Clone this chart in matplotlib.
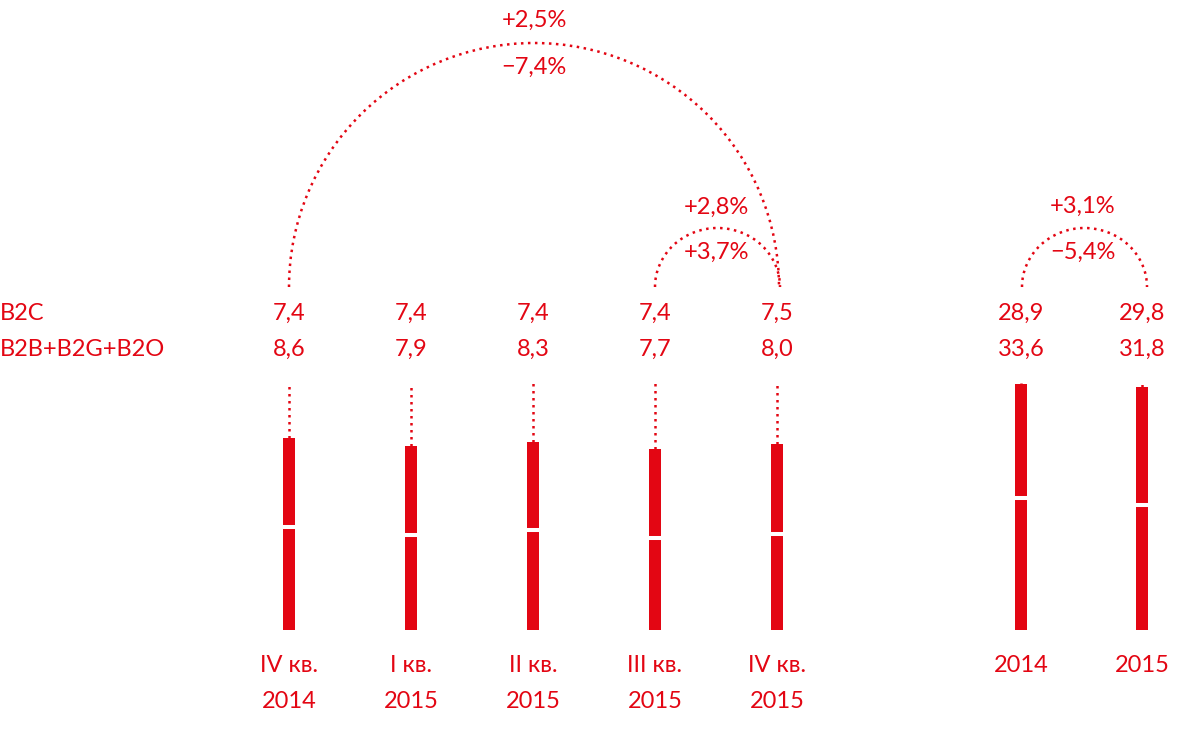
import matplotlib
matplotlib.use("Agg")
import matplotlib.pyplot as plt
from matplotlib.patches import Arc

plt.rcParams['font.family'] = ['Lato', 'DejaVu Sans']

RED = '#E30613'

# ---- data ----
quarters = ['IV кв.\n2014', 'I кв.\n2015', 'II кв.\n2015', 'III кв.\n2015', 'IV кв.\n2015']
q_b2c = [7.4, 7.4, 7.4, 7.4, 7.5]
q_b2b = [8.6, 7.9, 8.3, 7.7, 8.0]
years = ['2014', '2015']
y_b2c = [28.9, 29.8]
y_b2b = [33.6, 31.8]
series_names = ['B2C', 'B2B+B2G+B2O']
changes_big = ['+2,5%', '\u22127,4%']      # IV кв. 2014 -> IV кв. 2015
changes_small = ['+2,8%', '+3,7%']         # III кв. 2015 -> IV кв. 2015
changes_year = ['+3,1%', '\u22125,4%']     # 2014 -> 2015

# ---- layout (pixels) ----
W, H = 1188, 736
q_x = [289, 411, 533, 655, 777]
y_x = [1021, 1142]
BASE_PX = 630
DOT_TOP_PX = 383
Q_SCALE = 12.0     # px per unit (quarters)
Y_SCALE = 3.94     # px per unit (years)
BAR_W = 12
ROW1, ROW2 = 313, 349
FS = 17

fig = plt.figure(figsize=(W / 100, H / 100), dpi=100)

def bar_axes(scale):
    ax = fig.add_axes([0, (H - BASE_PX) / H, 1, BASE_PX / H])
    ax.set_xlim(0, W)
    ax.set_ylim(0, BASE_PX / scale)
    ax.axis('off')
    ax.patch.set_alpha(0)
    return ax

ax_q = bar_axes(Q_SCALE)
ax_y = bar_axes(Y_SCALE)

def draw_bars(ax, xs, bottom_vals, top_vals, scale):
    ax.bar(xs, bottom_vals, width=BAR_W, color=RED, linewidth=0)
    ax.bar(xs, top_vals, bottom=bottom_vals, width=BAR_W, color=RED, linewidth=0)
    for x, b, t in zip(xs, bottom_vals, top_vals):
        ax.hlines(b, x - BAR_W / 2 - 1, x + BAR_W / 2 + 1, color='white', lw=2.9)
        ax.vlines(x, b + t, (BASE_PX - DOT_TOP_PX) / scale, color=RED, lw=1.8,
                  linestyles=(0, (1, 1.8)))

# B2B+B2G+B2O at the bottom, B2C on top
draw_bars(ax_q, q_x, q_b2b, q_b2c, Q_SCALE)
draw_bars(ax_y, y_x, y_b2b, y_b2c, Y_SCALE)

# overlay axes for text and arcs
ax = fig.add_axes([0, 0, 1, 1])
ax.set_xlim(0, W)
ax.set_ylim(H, 0)
ax.axis('off')
ax.patch.set_alpha(0)

tk = dict(color=RED, fontsize=FS, ha='center', va='center')
ax.text(0, ROW1, series_names[0], color=RED, fontsize=FS, ha='left', va='center')
ax.text(0, ROW2, series_names[1], color=RED, fontsize=FS, ha='left', va='center')

for x, a, b, lab in zip(q_x, q_b2c, q_b2b, quarters):
    ax.text(x, ROW1, f'{a:.1f}'.replace('.', ','), **tk)
    ax.text(x, ROW2, f'{b:.1f}'.replace('.', ','), **tk)
    l1, l2 = lab.split('\n')
    ax.text(x, 666, l1, **tk)
    ax.text(x, 701, l2, **tk)

for x, a, b, lab in zip(y_x, y_b2c, y_b2b, years):
    ax.text(x, ROW1, f'{a:.1f}'.replace('.', ','), **tk)
    ax.text(x, ROW2, f'{b:.1f}'.replace('.', ','), **tk)
    ax.text(x, 666, lab, **tk)

# arcs
ARC_Y = 287
dot = dict(color=RED, lw=1.8, linestyle=(0, (1, 1.8)), theta1=180, theta2=360)
x0, x1 = q_x[0], q_x[-1] + 2
cx = (x0 + x1) / 2
r = (x1 - x0) / 2
ax.add_patch(Arc((cx, ARC_Y), 2 * r, 2 * (ARC_Y - 43), **dot))
ax.text(cx, 20, changes_big[0], **tk)
ax.text(cx, 67, changes_big[1], **tk)

x0, x1 = q_x[3], q_x[4] + 3
cx = (x0 + x1) / 2
ax.add_patch(Arc((cx, ARC_Y), x1 - x0, 2 * (ARC_Y - 228), **dot))
ax.text(cx - 1, 207, changes_small[0], **tk)
ax.text(cx - 1, 252, changes_small[1], **tk)

x0, x1 = y_x[0] + 1, y_x[1] + 5
cx = (x0 + x1) / 2
ax.add_patch(Arc((cx, ARC_Y), x1 - x0, 2 * (ARC_Y - 228), **dot))
ax.text(cx - 2, 206, changes_year[0], **tk)
ax.text(cx - 2, 252, changes_year[1], **tk)

fig.savefig('out.png', dpi=100, facecolor='white')
